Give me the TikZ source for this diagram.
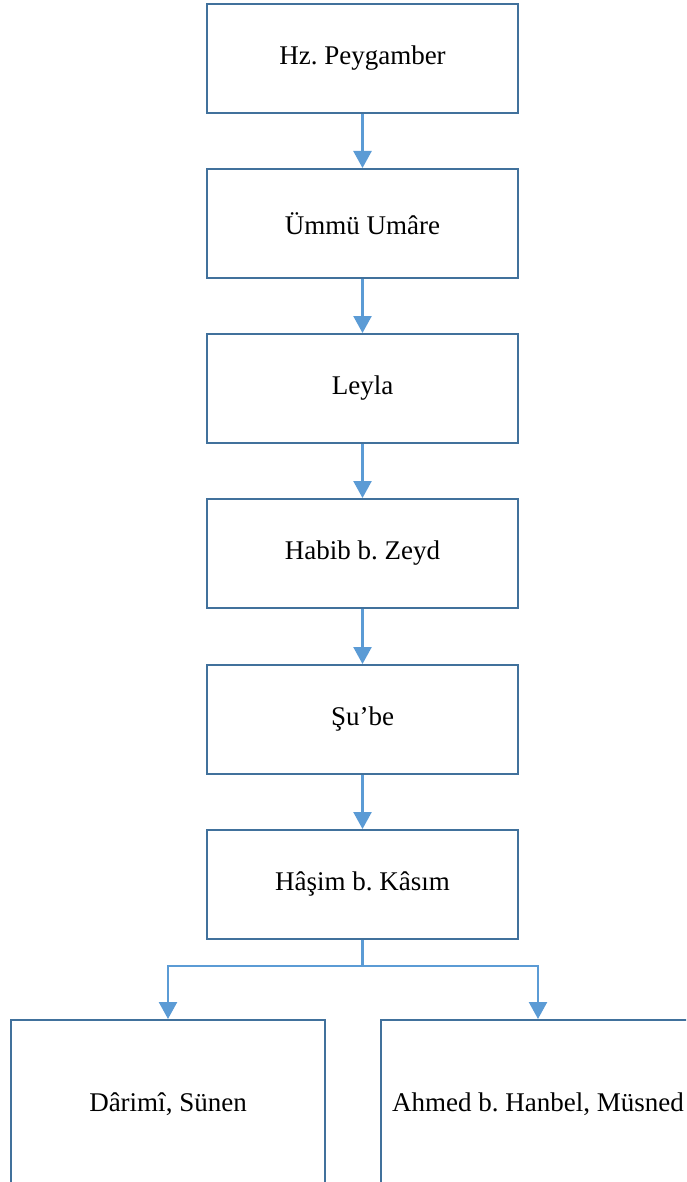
\documentclass[tikz,border=0pt]{standalone}
\usepackage{fontspec}
\setmainfont{Liberation Serif}
\usetikzlibrary{arrows.meta}
\definecolor{boxline}{HTML}{41719C}
\definecolor{arrowc}{HTML}{5B9BD5}
\frenchspacing
\begin{document}
\begin{tikzpicture}[x=1pt,y=-1pt,
  box/.style={draw=boxline,line width=1.8pt,fill=white,minimum width=311pt,minimum height=109pt,inner sep=0pt,font=\fontsize{27}{32}\selectfont,anchor=north},
  bbox/.style={box,minimum width=314pt,minimum height=168pt},
  conn/.style={draw=arrowc,line width=2.4pt,-{Triangle[width=18pt,length=17pt]}}]
\useasboundingbox (0,0) rectangle (686,1182);
\clip (0,0) rectangle (686,1182);
\node[box] (a) at (362.5,3) {Hz. Peygamber};
\node[box] (b) at (362.5,168) {Ümmü Umâre};
\node[box] (c) at (362.5,333) {Leyla};
\node[box] (d) at (362.5,498) {Habib b. Zeyd};
\node[box] (e) at (362.5,664) {Şu’be};
\node[box] (f) at (362.5,829) {Hâşim b. Kâsım};
\node[bbox] (g) at (168,1019) {Dârimî, Sünen};
\node[bbox] (h) at (538,1019) {Ahmed b. Hanbel, Müsned};
\draw[conn] (a.south) -- (b.north);
\draw[conn] (b.south) -- (c.north);
\draw[conn] (c.south) -- (d.north);
\draw[conn] (d.south) -- (e.north);
\draw[conn] (e.south) -- (f.north);
\coordinate (m) at (362.5,966);
\draw[conn] (f.south) -- (m) -| (g.north);
\draw[conn] (f.south) -- (m) -| (h.north);
\end{tikzpicture}
\end{document}
